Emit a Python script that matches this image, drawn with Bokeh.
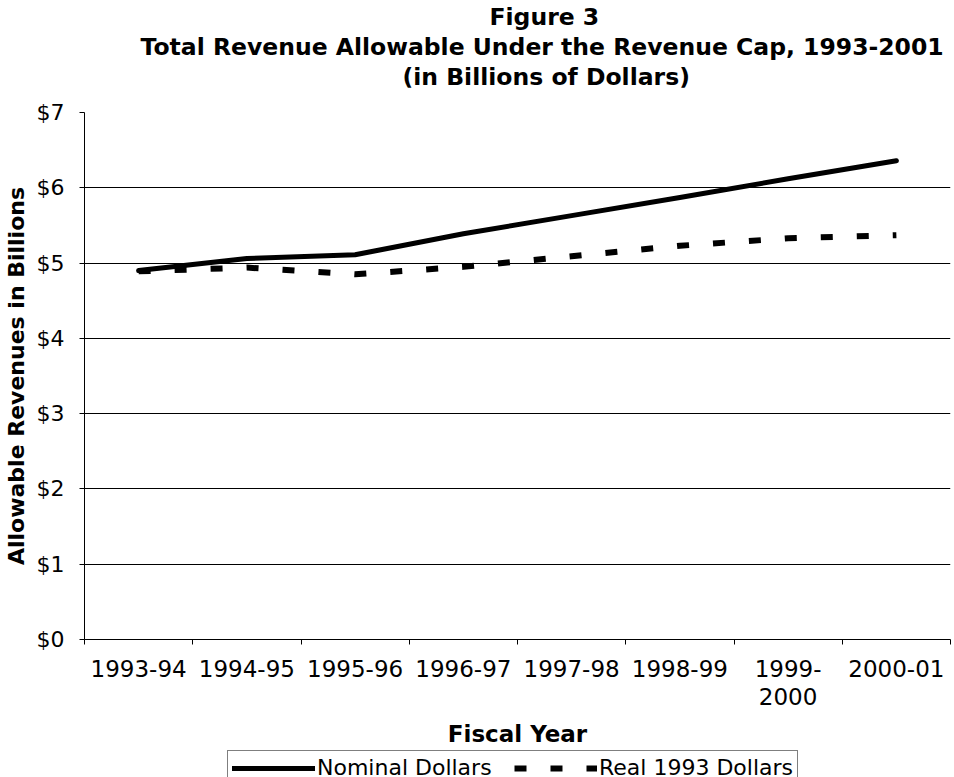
from bokeh.plotting import figure
from bokeh.layouts import column
from bokeh.models import Range1d, FixedTicker, NumeralTickFormatter, Legend, LegendItem, Title
from bokeh.embed import file_html
from bokeh.resources import INLINE

# ---- data ----
years = ["1993-94", "1994-95", "1995-96", "1996-97", "1997-98", "1998-99", "1999-\n2000", "2000-01"]
nominal = [4.90, 5.06, 5.11, 5.39, 5.63, 5.87, 6.12, 6.36]
real_1993 = [4.89, 4.94, 4.85, 4.95, 5.09, 5.23, 5.33, 5.37]
y_ticks = [0, 1, 2, 3, 4, 5, 6, 7]
grid_ticks = [1, 2, 3, 4, 5, 6]
series_labels = ["Nominal Dollars", "Real 1993 Dollars"]
title_lines = ["Figure 3",
               "Total Revenue Allowable Under the Revenue Cap, 1993-2001",
               "(in Billions of Dollars)"]
x_title = "Fiscal Year"
y_title = "Allowable Revenues in Billions"

FONT = "DejaVu Sans"
NOMINAL_STYLE = dict(line_color="black", line_width=5, line_cap="round", line_join="round")
REAL_STYLE = dict(line_color="black", line_width=6, line_dash="12 24", line_cap="butt")

x = [i + 0.5 for i in range(len(years))]
boundaries = list(range(len(years) + 1))

p = figure(frame_width=866, frame_height=527, x_range=Range1d(0, len(years)),
           y_range=Range1d(y_ticks[0], y_ticks[-1]),
           output_backend="svg", toolbar_location=None, title=None,
           min_border_left=75, min_border_right=5, min_border_top=0, min_border_bottom=0)
p.outline_line_color = None
p.background_fill_color = "white"

p.line(x, nominal, **NOMINAL_STYLE)
p.line(x, real_1993, **REAL_STYLE)

# grid
p.xgrid.visible = False
p.ygrid.ticker = FixedTicker(ticks=grid_ticks)
p.ygrid.grid_line_color = "black"
p.ygrid.grid_line_width = 1

# x axis
xa = p.xaxis[0]
xa.ticker = FixedTicker(ticks=x, minor_ticks=boundaries)
xa.major_label_overrides = {xi: lab for xi, lab in zip(x, years)}
xa.major_tick_out = 0
xa.major_tick_in = 0
xa.minor_tick_out = 5
xa.minor_tick_in = 0
xa.minor_tick_line_color = "black"
xa.axis_line_color = "black"
xa.major_label_text_font = FONT
xa.major_label_text_font_size = "23px"
xa.major_label_text_line_height = 1.1
xa.major_label_text_color = "black"
xa.major_label_standoff = 11
xa.axis_label = x_title
xa.axis_label_text_font = FONT
xa.axis_label_text_font_size = "23px"
xa.axis_label_text_font_style = "bold"
xa.axis_label_text_color = "black"
xa.axis_label_standoff = 8

# y axis
ya = p.yaxis[0]
ya.ticker = FixedTicker(ticks=y_ticks)
ya.formatter = NumeralTickFormatter(format="$0")
ya.major_tick_out = 5
ya.major_tick_in = 0
ya.minor_tick_out = 0
ya.minor_tick_in = 0
ya.axis_line_color = "black"
ya.major_tick_line_color = "black"
ya.major_label_text_font = FONT
ya.major_label_text_font_size = "22px"
ya.major_label_text_color = "black"
ya.major_label_standoff = 15
ya.axis_label = y_title
ya.axis_label_text_font = FONT
ya.axis_label_text_font_size = "22px"
ya.axis_label_text_font_style = "bold"
ya.axis_label_text_color = "black"
ya.axis_label_standoff = 5

# titles (added inner-most first); a tiny spacer keeps the gap to the frame
p.add_layout(Title(text=" ", text_font_size="1px", standoff=19, text_color="white"), "above")
offsets = [405, 56, 318]
for i in [2, 1, 0]:
    t = Title(text=title_lines[i], align="left", offset=offsets[i], standoff=0,
              text_font=FONT, text_font_size="23.5px", text_font_style="bold", text_color="black")
    p.add_layout(t, "above")

# legend strip under the chart (series drawn outside its visible range, only the legend shows)
p2 = figure(width=946, height=29, x_range=Range1d(0, 1), y_range=Range1d(0, 1),
            x_axis_type=None, y_axis_type=None, output_backend="svg", toolbar_location=None,
            title=None, min_border=0, min_border_left=0, min_border_right=0,
            min_border_top=0, min_border_bottom=0)
p2.outline_line_color = None
p2.grid.visible = False
l1 = p2.line(x, nominal, **NOMINAL_STYLE)
l2 = p2.line(x, real_1993, **REAL_STYLE)

legend = Legend(items=[LegendItem(label=series_labels[0], renderers=[l1]),
                       LegendItem(label=series_labels[1], renderers=[l2])],
                orientation="horizontal", location=(143, -6),
                label_text_font=FONT, label_text_font_size="22px", label_text_color="black",
                glyph_width=83, glyph_height=20, label_standoff=2, label_width=190,
                spacing=7, padding=4, margin=0,
                border_line_color="black", border_line_width=1, background_fill_color="white")
p2.add_layout(legend, "center")

layout = column(p, p2, spacing=0)
open("out.html", "w").write(file_html(layout, INLINE))
